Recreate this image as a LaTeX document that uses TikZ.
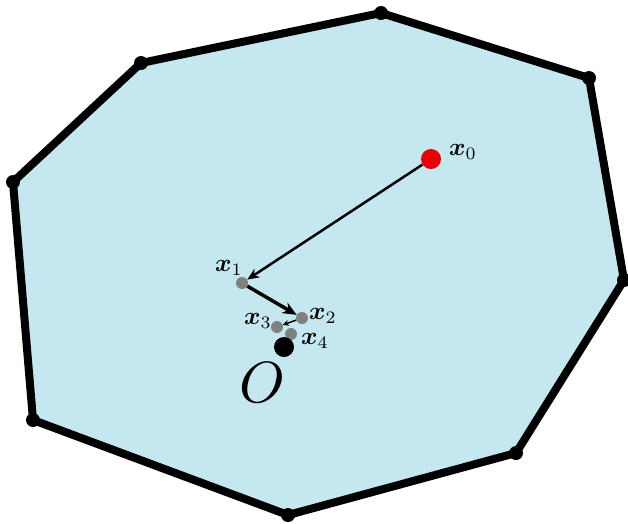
\documentclass[tikz,border=0pt]{standalone}
\usepackage{amsmath,bm}
\usetikzlibrary{arrows.meta}
\definecolor{regionblue}{RGB}{197,231,239}
\definecolor{ptgray}{RGB}{128,128,128}
\definecolor{ptred}{RGB}{230,0,0}
\begin{document}
\begin{tikzpicture}[x=1pt,y=-1pt,
  vert/.style={circle,fill=black,inner sep=0pt,minimum size=14pt},
  iter/.style={circle,fill=ptgray,inner sep=0pt,minimum size=12pt},
  lbl/.style={inner sep=0.5pt,scale=2.5},
  step arrow/.style={-{Stealth[length=12pt,width=10pt]},line width=2.5pt}]
\useasboundingbox (0,0) rectangle (628,523);
\coordinate (v1) at (141,63);
\coordinate (v2) at (381,13);
\coordinate (v3) at (589,78);
\coordinate (v4) at (624,280);
\coordinate (v5) at (516,453);
\coordinate (v6) at (288,515);
\coordinate (v7) at (33,420);
\coordinate (v8) at (13,182);
\draw[fill=regionblue,line width=8pt,line join=round] (v1)--(v2)--(v3)--(v4)--(v5)--(v6)--(v7)--(v8)--cycle;
\foreach \v in {v1,v2,v3,v4,v5,v6,v7,v8} \node[vert] at (\v) {};
\node[circle,fill=ptred,inner sep=0pt,minimum size=20pt] (x0) at (431,159) {};
\node[iter] (x1) at (242,283) {};
\node[iter] (x2) at (302,318) {};
\node[iter] (x3) at (277,327) {};
\node[iter] (x4) at (291,334) {};
\node[circle,fill=black,inner sep=0pt,minimum size=20pt] (O) at (284,347) {};
\draw[step arrow] (x0) -- (x1);
\draw[-{Stealth[length=14pt,width=12pt]},line width=3.5pt] (x1) -- (x2);
\draw[-{Stealth[length=6pt,width=6pt]},line width=1.5pt] (x2) -- (x3);
\node[lbl] (l0) at (463,152) {$\bm{x}_0$};
\node[lbl] (l1) at (229,268) {$\bm{x}_1$};
\node[lbl] (l2) at (323,316) {$\bm{x}_2$};
\node[lbl] (l3) at (258,321) {$\bm{x}_3$};
\node[lbl] (l4) at (315,341) {$\bm{x}_4$};
\node[scale=5.8,inner sep=0pt] (lO) at (262,383) {$O$};
\end{tikzpicture}
\end{document}
